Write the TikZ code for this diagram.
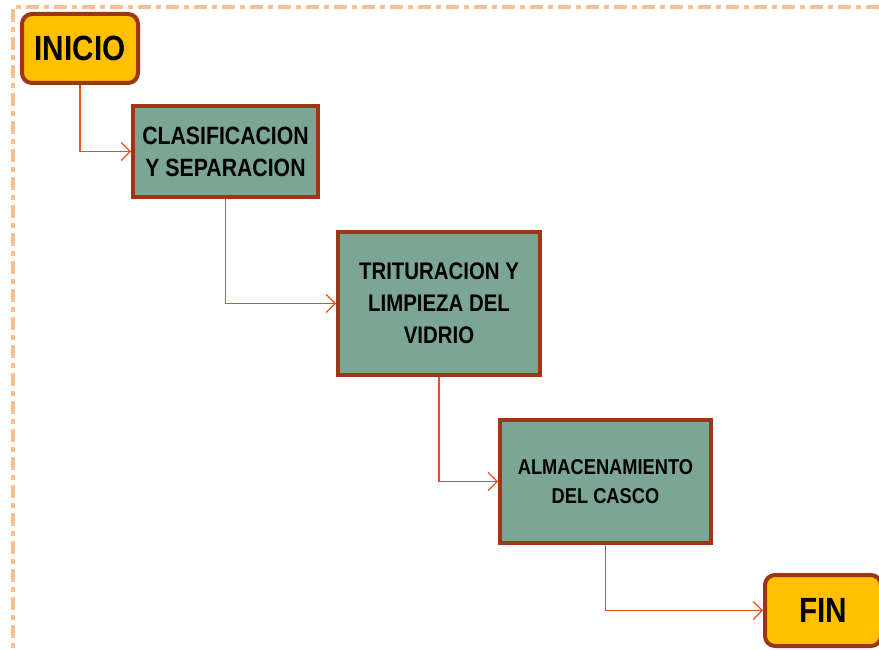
\documentclass[tikz,border=0pt]{standalone}
\usepackage{fontspec}
\newfontfamily\boxfont{Liberation Sans}[FakeStretch=0.85]
\usetikzlibrary{arrows.meta}

\definecolor{frameorange}{HTML}{F9BF8F}
\definecolor{startfill}{HTML}{FFC000}
\definecolor{stepfill}{HTML}{7BA696}
\definecolor{boxborder}{HTML}{9E3513}
\definecolor{flowline}{HTML}{E8501E}

\tikzset{
  endbox/.style={draw=boxborder, line width=4pt, fill=startfill, rounded corners=10pt,
    inner sep=0pt, align=center, font=\boxfont\bfseries\fontsize{35}{38}\selectfont},
  stepbox/.style={draw=boxborder, line width=4pt, fill=stepfill,
    inner sep=0pt, align=center, font=\boxfont\bfseries},
  flow/.style={draw=flowline, line width=1.2pt, -{Straight Barb[length=9pt,width=18pt,line width=1.2pt]}}
}

\begin{document}
\begin{tikzpicture}[x=1pt, y=-1pt]
        \useasboundingbox (0,0) rectangle (879,650);
        \clip (0,0) rectangle (879,650);
        % dashed frame
        \draw[frameorange, line width=3.5pt, dash pattern=on 13pt off 5pt on 5pt off 5pt]
          (879,7) -- (13,7) -- (13,650);

        \node[endbox, minimum width=116pt, minimum height=69pt] (inicio) at (80,48.5) {INICIO};
        \node[stepbox, minimum width=185pt, minimum height=91pt,
          font=\boxfont\bfseries\fontsize{25}{32}\selectfont] (clasif) at (225.5,151.5)
          {CLASIFICACION\\Y SEPARACION};
        \node[stepbox, minimum width=202pt, minimum height=143pt,
          font=\boxfont\bfseries\fontsize{24}{32}\selectfont] (tritur) at (439,303.5)
          {TRITURACION Y\\LIMPIEZA DEL\\VIDRIO};
        \node[stepbox, minimum width=211pt, minimum height=123pt,
          font=\boxfont\bfseries\fontsize{21.5}{29}\selectfont] (almac) at (605.5,481.5)
          {ALMACENAMIENTO\\DEL CASCO};
        \node[endbox, minimum width=116pt, minimum height=71pt] (fin) at (823,610.5) {FIN};

        \draw[flow] (inicio.south) |- (clasif.west);
        \draw[flow] (clasif.south) |- (tritur.west);
        \draw[flow] (tritur.south) |- (almac.west);
        \draw[flow] (almac.south) |- (fin.west);
    \end{tikzpicture}
\end{document}
